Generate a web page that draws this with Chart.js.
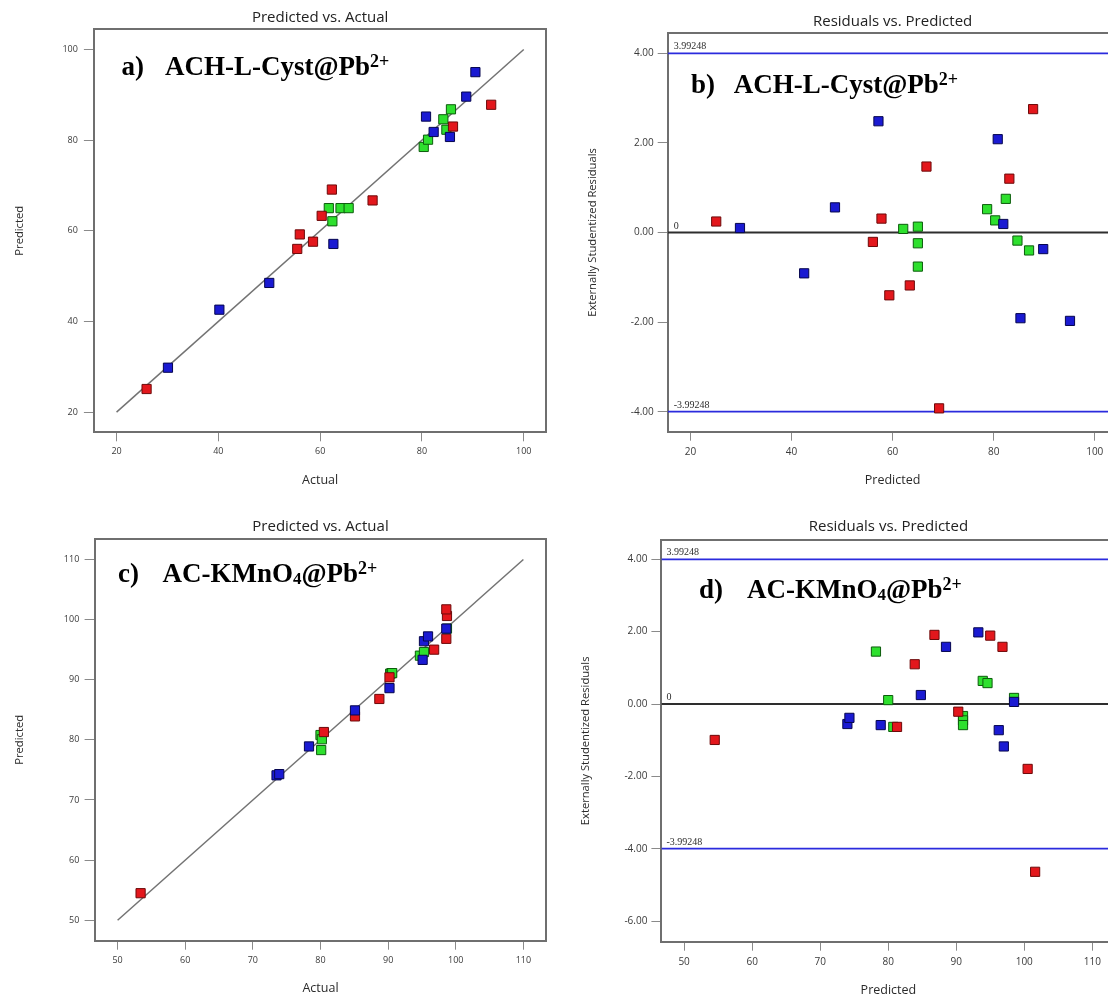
<!DOCTYPE html>
<html>
<head>
<meta charset="utf-8">
<script src="https://cdn.jsdelivr.net/npm/chart.js@4.4.0/dist/chart.umd.min.js"></script>
<style>
  html, body { margin: 0; padding: 0; background: #fff; }
  body { width: 1108px; height: 996px; overflow: hidden; position: relative; }
  canvas { position: absolute; }
</style>
</head>
<body>
<canvas id="panelA" width="560" height="500" style="left:0;top:0"></canvas>
<canvas id="panelB" width="570" height="500" style="left:560px;top:0"></canvas>
<canvas id="panelC" width="560" height="504" style="left:0;top:500px"></canvas>
<canvas id="panelD" width="570" height="504" style="left:560px;top:500px"></canvas>
<script>
// a) ACH-L-Cyst@Pb2+ : predicted vs actual
const cystActualRed   = [25.9, 55.5, 56.0, 58.6, 60.3, 62.3, 70.3, 86.1, 93.6];
const cystPredRed     = [25.1, 56.0, 59.2, 57.6, 63.3, 69.1, 66.7, 83.0, 87.8];
const cystActualBlue  = [30.1, 40.2, 50.0, 62.6, 80.8, 82.3, 85.5, 88.7, 90.5];
const cystPredBlue    = [29.8, 42.6, 48.5, 57.1, 85.2, 81.8, 80.7, 89.6, 95.0];
const cystActualGreen = [61.7, 62.4, 64.0, 65.6, 80.35, 81.2, 84.2, 84.8, 85.7];
const cystPredGreen   = [65.0, 62.1, 65.0, 65.0, 78.5, 80.1, 84.6, 82.3, 86.8];

// b) ACH-L-Cyst@Pb2+ : externally studentized residuals vs predicted
const cystResPredRed   = [25.1, 56.1, 57.8, 59.35, 63.4, 66.7, 69.2, 83.1, 87.8];
const cystResidRed     = [0.245, -0.21, 0.31, -1.40, -1.18, 1.47, -3.92, 1.20, 2.75];
const cystResPredBlue  = [29.8, 42.5, 48.6, 57.2, 80.8, 81.9, 85.3, 89.8, 95.1];
const cystResidBlue    = [0.10, -0.91, 0.56, 2.48, 2.08, 0.19, -1.91, -0.37, -1.97];
const cystResPredGreen = [62.1, 65.0, 65.0, 65.0, 78.7, 80.3, 82.4, 84.7, 87.0];
const cystResidGreen   = [0.08, 0.13, -0.24, -0.76, 0.52, 0.27, 0.75, -0.18, -0.40];

// c) AC-KMnO4@Pb2+ : predicted vs actual
const kmnoActualRed   = [53.4, 80.5, 85.1, 88.7, 90.2, 96.8, 98.6, 98.7, 98.6];
const kmnoPredRed     = [54.5, 81.3, 83.9, 86.8, 90.4, 95.0, 96.8, 100.6, 101.7];
const kmnoActualBlue  = [73.5, 73.9, 78.3, 85.1, 90.2, 95.1, 95.3, 95.9, 98.6];
const kmnoPredBlue    = [74.1, 74.3, 78.9, 84.9, 88.6, 93.3, 96.4, 97.2, 98.5];
const kmnoActualGreen = [80.1, 80.0, 80.2, 90.3, 90.5, 90.6, 94.7, 95.3, 98.7];
const kmnoPredGreen   = [78.3, 80.8, 80.1, 91.0, 91.1, 91.1, 94.0, 94.6, 98.5];

// d) AC-KMnO4@Pb2+ : externally studentized residuals vs predicted
const kmnoResPredRed   = [54.5, 81.3, 83.9, 86.8, 90.3, 95.0, 96.8, 100.5, 101.6];
const kmnoResidRed     = [-0.99, -0.63, 1.10, 1.91, -0.21, 1.89, 1.58, -1.79, -4.63];
const kmnoResPredBlue  = [74.0, 74.3, 78.9, 84.8, 88.5, 93.25, 96.25, 97.0, 98.5];
const kmnoResidBlue    = [-0.55, -0.38, -0.58, 0.25, 1.58, 1.98, -0.72, -1.17, 0.06];
const kmnoResPredGreen = [78.2, 80.0, 80.75, 91.0, 91.0, 91.0, 93.9, 94.6, 98.5];
const kmnoResidGreen   = [1.45, 0.11, -0.63, -0.33, -0.45, -0.58, 0.64, 0.58, 0.17];

// axis ticks and limits
const cystTicks   = [20, 40, 60, 80, 100];
const kmnoTicks   = [50, 60, 70, 80, 90, 100, 110];
const residTicksB = [-4, -2, 0, 2, 4];
const residTicksD = [-6, -4, -2, 0, 2, 4];
const cystFit     = [20, 100];
const kmnoFit     = [50, 110];
const outlierLimit = 3.99248;

const sans  = '"Open Sans", "Noto Sans", sans-serif';
const serif = '"Liberation Serif", "Times New Roman", serif';
Chart.defaults.font.family = sans;
Chart.defaults.color = '#333';

const frameColor = '#6f6f6f';
const markerStyle = {
    red:   { fill: '#e3171c', edge: '#6d0a0a' },
    blue:  { fill: '#1a1ad2', edge: '#06064f' },
    green: { fill: '#2ee02e', edge: '#0d5c0d' }
};

function pts(xs, ys) {
    return xs.map((x, i) => ({ x: x, y: ys[i] }));
}

// blue drawn on top, then red, then green
const markerOrder = { blue: 1, red: 2, green: 3 };

function markers(color, xs, ys) {
    return {
        type: 'scatter',
        data: pts(xs, ys),
        pointStyle: 'rect',
        pointRadius: 6.5,
        backgroundColor: markerStyle[color].fill,
        borderColor: markerStyle[color].edge,
        borderWidth: 1,
        order: markerOrder[color]
    };
}

function refLine(xs, ys, color, width) {
    return {
        type: 'line',
        data: pts(xs, ys),
        borderColor: color,
        borderWidth: width,
        pointRadius: 0,
        fill: false,
        order: 10
    };
}

// panel heading + small limit labels (spec kept out of chart options so the
// option resolver doesn't touch it)
function panelText(spec) {
    return {
        id: 'panelText',
        afterDatasetsDraw(chart) {
            const { ctx, chartArea, scales } = chart;
            ctx.save();
            ctx.textAlign = 'left';
            ctx.textBaseline = 'alphabetic';
            ctx.fillStyle = '#2d2d2d';
            ctx.font = '10px ' + serif;
            (spec.notes || []).forEach(n => {
                ctx.fillText(n.text, chartArea.left + n.dx, scales.y.getPixelForValue(n.value) - 4);
            });
            const h = spec.heading;
            const y0 = chartArea.top + h.dy;
            ctx.fillStyle = '#000';
            ctx.font = 'bold 27px ' + serif;
            ctx.fillText(h.tag, chartArea.left + h.tagDx, y0);
            let x = chartArea.left + h.textDx;
            h.parts.forEach(part => {
                ctx.font = 'bold ' + part.size + 'px ' + serif;
                ctx.fillText(part.text, x, y0 + part.shift);
                x += ctx.measureText(part.text).width;
            });
            ctx.restore();
        }
    };
}

function buildPanel(canvasId, p) {
    const fmt = p.yFmt || (v => String(v));
    return new Chart(document.getElementById(canvasId), {
        type: 'scatter',
        data: { datasets: p.datasets },
        options: {
            responsive: false,
            animation: false,
            events: [],
            layout: { padding: 0, autoPadding: false },
            plugins: {
                legend: { display: false },
                tooltip: { enabled: false }
            },
            scales: {
                x: {
                    type: 'linear',
                    position: 'bottom',
                    min: p.xRange[0],
                    max: p.xRange[1],
                    afterBuildTicks: s => { s.ticks = p.xTicks.map(v => ({ value: v })); },
                    afterFit: s => { s.height = p.box.bottom; },
                    ticks: {
                        font: { size: p.tickSize },
                        color: '#3a3a3a',
                        padding: p.pad.xTick,
                        maxRotation: 0,
                        autoSkip: false,
                        callback: v => String(v)
                    },
                    grid: { drawOnChartArea: false, drawTicks: true, tickLength: 9, color: '#8a8a8a', lineWidth: 1 },
                    border: { display: true, color: frameColor, width: 2 },
                    title: {
                        display: true,
                        text: p.xTitle,
                        font: { size: 12.5 },
                        color: '#2a2a2a',
                        padding: { top: 0, bottom: p.pad.xTitle }
                    }
                },
                y: {
                    type: 'linear',
                    position: 'left',
                    min: p.yRange[0],
                    max: p.yRange[1],
                    afterBuildTicks: s => { s.ticks = p.yTicks.map(v => ({ value: v })); },
                    afterFit: s => { s.width = p.box.left; },
                    ticks: {
                        font: { size: p.tickSize },
                        color: '#3a3a3a',
                        padding: p.pad.yTick,
                        autoSkip: false,
                        callback: fmt
                    },
                    grid: { drawOnChartArea: false, drawTicks: true, tickLength: 10, color: '#8a8a8a', lineWidth: 1 },
                    border: { display: true, color: frameColor, width: 2 },
                    title: {
                        display: true,
                        text: p.yTitle,
                        font: { size: 11.2 },
                        color: '#2a2a2a',
                        padding: { top: p.pad.yTitle, bottom: 0 }
                    }
                },
                xTop: {
                    type: 'linear',
                    position: 'top',
                    min: p.xRange[0],
                    max: p.xRange[1],
                    afterFit: s => { s.height = p.box.top; },
                    ticks: { display: false },
                    grid: { display: false },
                    border: { display: true, color: frameColor, width: 2 },
                    title: {
                        display: true,
                        text: p.title,
                        font: { size: 15 },
                        color: '#222',
                        padding: { top: p.pad.title, bottom: 0 }
                    }
                },
                yRight: {
                    type: 'linear',
                    position: 'right',
                    min: p.yRange[0],
                    max: p.yRange[1],
                    afterFit: s => { s.width = p.box.right; },
                    ticks: { display: false },
                    grid: { display: false },
                    border: { display: true, color: frameColor, width: 2 }
                }
            }
        },
        plugins: [panelText({ heading: p.heading, notes: p.notes })]
    });
}

const cystHeading = [
    { text: 'ACH-L-Cyst@Pb', size: 27, shift: 0 },
    { text: '2+', size: 18, shift: -8 }
];
const kmnoHeading = [
    { text: 'AC-KMnO', size: 27, shift: 0 },
    { text: '4', size: 17, shift: 2 },
    { text: '@Pb', size: 27, shift: 0 },
    { text: '2+', size: 18, shift: -8 }
];

function limitNotes(dx) {
    return [
        { text: String(outlierLimit), value: outlierLimit, dx: dx },
        { text: '0', value: 0, dx: dx },
        { text: '-' + outlierLimit, value: -outlierLimit, dx: dx }
    ];
}

function residualLines(xRange) {
    return [
        refLine(xRange, [outlierLimit, outlierLimit], '#2b2bdd', 1.8),
        refLine(xRange, [-outlierLimit, -outlierLimit], '#2b2bdd', 1.8),
        refLine(xRange, [0, 0], '#2e2e2e', 2)
    ];
}

const rangeA = [15.55, 104.45];
buildPanel('panelA', {
    title: 'Predicted vs. Actual', xTitle: 'Actual', yTitle: 'Predicted',
    xRange: rangeA, yRange: rangeA, xTicks: cystTicks, yTicks: cystTicks, tickSize: 9,
    box: { left: 93.9, right: 13.6, top: 29.3, bottom: 67.7 },
    pad: { title: 8.5, xTitle: 12.5, yTitle: 12.9, xTick: 5, yTick: 6 },
    heading: { tag: 'a)', tagDx: 27.5, textDx: 71.1, dy: 45.7, parts: cystHeading },
    datasets: [
        markers('red', cystActualRed, cystPredRed),
        markers('blue', cystActualBlue, cystPredBlue),
        markers('green', cystActualGreen, cystPredGreen),
        refLine(cystFit, cystFit, '#737373', 1.5)
    ]
});

const rangeBx = [15.5, 104.5];
buildPanel('panelB', {
    title: 'Residuals vs. Predicted', xTitle: 'Predicted', yTitle: 'Externally Studentized Residuals',
    xRange: rangeBx, yRange: [-4.44, 4.44], xTicks: cystTicks, yTicks: residTicksB, tickSize: 10,
    yFmt: v => v.toFixed(2),
    box: { left: 107.7, right: 12.5, top: 33.3, bottom: 68.3 },
    pad: { title: 12.7, xTitle: 12.5, yTitle: 26.5, xTick: 5, yTick: 4 },
    heading: { tag: 'b)', tagDx: 23.3, textDx: 66, dy: 60, parts: cystHeading },
    notes: limitNotes(6),
    datasets: [
        markers('red', cystResPredRed, cystResidRed),
        markers('blue', cystResPredBlue, cystResidBlue),
        markers('green', cystResPredGreen, cystResidGreen)
    ].concat(residualLines(rangeBx))
});

const rangeC = [46.6, 113.4];
buildPanel('panelC', {
    title: 'Predicted vs. Actual', xTitle: 'Actual', yTitle: 'Predicted',
    xRange: rangeC, yRange: rangeC, xTicks: kmnoTicks, yTicks: kmnoTicks, tickSize: 9,
    box: { left: 94.6, right: 13.6, top: 39, bottom: 63.3 },
    pad: { title: 17.7, xTitle: 8.2, yTitle: 12.9, xTick: 4.9, yTick: 5.3 },
    heading: { tag: 'c)', tagDx: 23.3, textDx: 67.9, dy: 42.7, parts: kmnoHeading },
    datasets: [
        markers('red', kmnoActualRed, kmnoPredRed),
        markers('blue', kmnoActualBlue, kmnoPredBlue),
        markers('green', kmnoActualGreen, kmnoPredGreen),
        refLine(kmnoFit, kmnoFit, '#737373', 1.5)
    ]
});

const rangeDx = [46.66, 113.4];
buildPanel('panelD', {
    title: 'Residuals vs. Predicted', xTitle: 'Predicted', yTitle: 'Externally Studentized Residuals',
    xRange: rangeDx, yRange: [-6.56, 4.53], xTicks: kmnoTicks, yTicks: residTicksD, tickSize: 10,
    yFmt: v => v.toFixed(2),
    box: { left: 101.4, right: 14.6, top: 40, bottom: 62.3 },
    pad: { title: 17.7, xTitle: 6.5, yTitle: 19.5, xTick: 5, yTick: 4 },
    heading: { tag: 'd)', tagDx: 37.6, textDx: 85.6, dy: 58.3, parts: kmnoHeading },
    notes: limitNotes(5),
    datasets: [
        markers('red', kmnoResPredRed, kmnoResidRed),
        markers('blue', kmnoResPredBlue, kmnoResidBlue),
        markers('green', kmnoResPredGreen, kmnoResidGreen)
    ].concat(residualLines(rangeDx))
});
</script>
</body>
</html>
